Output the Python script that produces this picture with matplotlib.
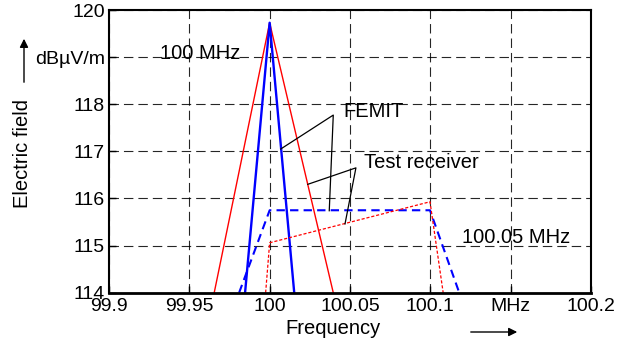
import matplotlib
matplotlib.use('Agg')
import matplotlib.pyplot as plt

plt.rcParams['font.family'] = ['Liberation Sans', 'DejaVu Sans']

# FEMIT curves (solid) and test receiver curves (dashed)
femit_red_x = [99.9655, 100.0, 100.0396]
femit_red_y = [114.0, 119.73, 114.0]
femit_blue_x = [99.9847, 100.0, 100.0153]
femit_blue_y = [114.0, 119.73, 114.0]
recv_blue_x = [99.981, 100.0, 100.0998, 100.118]
recv_blue_y = [114.0, 115.75, 115.75, 114.0]
recv_red_x = [99.9975, 100.0, 100.0998, 100.108]
recv_red_y = [114.0, 115.06, 115.93, 114.0]

xticks = [99.9, 99.95, 100.0, 100.05, 100.1, 100.15, 100.2]
xticklabels = ['99.9', '99.95', '100', '100.05', '100.1', 'MHz', '100.2']
yticks = [114, 115, 116, 117, 118, 119, 120]
yticklabels = ['114', '115', '116', '117', '118', 'dBµV/m', '120']

fig = plt.figure(figsize=(6.31, 3.49), dpi=100)
ax = fig.add_axes([0.1727, 0.1613, 0.7639, 0.8100])

ax.plot(femit_red_x, femit_red_y, color='red', lw=1.0)
ax.plot(femit_blue_x, femit_blue_y, color='blue', lw=1.7)
ax.plot(recv_blue_x, recv_blue_y, color='blue', lw=1.5, linestyle=(0, (4, 2.5)))
ax.plot(recv_red_x, recv_red_y, color='red', lw=0.9, linestyle=(0, (2.5, 1.5)))

ax.set_xlim(99.9, 100.2)
ax.set_ylim(114, 120)
ax.set_xticks(xticks)
ax.set_xticklabels(xticklabels)
ax.set_yticks(yticks)
ax.set_yticklabels(yticklabels)
ax.tick_params(direction='in', length=5, width=1, labelsize=14, pad=4)
ax.tick_params(axis='y', pad=3)
ax.grid(True, color='black', lw=0.8, linestyle=(0, (8.5, 4.5)), alpha=0.85)
for s in ax.spines.values():
    s.set_linewidth(1.5)
ax.spines['bottom'].set_linewidth(2)

# annotations
ax.text(99.957, 119.08, '100 MHz', fontsize=14.5, ha='center', va='center')
ax.text(100.1532, 115.17, '100.05 MHz', fontsize=14.5, ha='center', va='center')
ax.text(100.0457, 117.84, 'FEMIT', fontsize=14.5, ha='left', va='center')
ax.text(100.0587, 116.76, 'Test receiver', fontsize=14.5, ha='left', va='center')

ax.plot([100.0069, 100.0396, 100.0371], [117.05, 117.77, 115.74], color='black', lw=0.9)
ax.plot([100.0237, 100.0537, 100.0469], [116.30, 116.65, 115.46], color='black', lw=0.9)

# axis labels with arrows
fig.text(333 / 631, 1 - 328 / 349, 'Frequency', fontsize=14.5, ha='center', va='center')
fig.text(23 / 631, 1 - 154 / 349, 'Electric field', fontsize=14.5, ha='center', va='center',
         rotation=90)
fig.add_artist(matplotlib.patches.FancyArrowPatch((468 / 631, 1 - 332 / 349), (520 / 631, 1 - 332 / 349),
               transform=fig.transFigure, arrowstyle='-|>,head_length=5,head_width=2.5',
               color='black', lw=1.0))
fig.add_artist(matplotlib.patches.FancyArrowPatch((24 / 631, 1 - 85 / 349), (24 / 631, 1 - 36 / 349),
               transform=fig.transFigure, arrowstyle='-|>,head_length=5,head_width=2.5',
               color='black', lw=1.0))

plt.savefig('out.png', dpi=100)
